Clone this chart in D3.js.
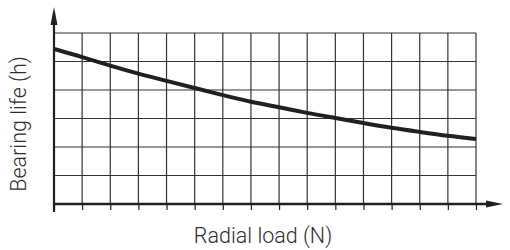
<!DOCTYPE html>
<html>
<head>
<meta charset="utf-8">
<script src="https://cdn.jsdelivr.net/npm/d3@7"></script>
<style>
  body { margin: 0; background: #fff; }
  text { font-family: Roboto, "Liberation Sans", sans-serif; font-weight: 300; fill: #2e2e2e; }
</style>
</head>
<body>
<div id="chart"></div>
<script>
// load steps (grid columns) and life values in grid units
const loadSteps = [0, 1, 2, 3, 4, 5, 6, 7, 8, 9, 10, 11, 12, 13, 14, 15];
const lifeValues = [5.44, 5.16, 4.85, 4.57, 4.32, 4.07, 3.82, 3.58, 3.40, 3.19, 3.02, 2.84, 2.67, 2.53, 2.39, 2.28];
const xGridTicks = d3.range(0, 16);
const yGridTicks = d3.range(0, 7);
const xTitle = "Radial load (N)";
const yTitle = "Bearing life (h)";

const width = 510, height = 250;
const margin = { top: 33, right: 34, bottom: 46, left: 54 };

const svg = d3.select("#chart").append("svg")
    .attr("width", width)
    .attr("height", height);

const x = d3.scaleLinear().domain([0, 15]).range([margin.left, width - margin.right]);
const y = d3.scaleLinear().domain([0, 6]).range([height - margin.bottom, margin.top]);

const ink = "#231f20";

// grid
const grid = svg.append("g").attr("stroke", "#333").attr("stroke-width", 1.2);
grid.selectAll("line.v")
    .data(xGridTicks.slice(1))
    .join("line")
    .attr("x1", d => x(d)).attr("x2", d => x(d))
    .attr("y1", y(6)).attr("y2", y(0));
grid.selectAll("line.h")
    .data(yGridTicks.slice(1))
    .join("line")
    .attr("x1", x(0)).attr("x2", x(15))
    .attr("y1", d => y(d)).attr("y2", d => y(d));

// tick marks below x axis
svg.append("g")
    .attr("transform", `translate(0,${y(0)})`)
    .call(d3.axisBottom(x).tickValues(xGridTicks).tickSize(6).tickFormat(""))
    .call(g => g.select(".domain").remove())
    .call(g => g.selectAll(".tick line").attr("stroke", ink).attr("stroke-width", 1.2));

// axes with arrows
svg.append("line")
    .attr("x1", x(0)).attr("x2", 490)
    .attr("y1", y(0)).attr("y2", y(0))
    .attr("stroke", ink).attr("stroke-width", 2.6);
svg.append("path")
    .attr("d", `M503,${y(0)} L486,${y(0) - 3.5} L486,${y(0) + 3.5} Z`)
    .attr("fill", ink);

svg.append("line")
    .attr("x1", x(0)).attr("x2", x(0))
    .attr("y1", y(0) + 8).attr("y2", 20)
    .attr("stroke", ink).attr("stroke-width", 2.2);
svg.append("path")
    .attr("d", `M${x(0)},7 L${x(0) - 3.5},25 L${x(0) + 3.5},25 Z`)
    .attr("fill", ink);

// curve
const line = d3.line()
    .x((d, i) => x(loadSteps[i]))
    .y(d => y(d))
    .curve(d3.curveBasis);

svg.append("path")
    .datum(lifeValues)
    .attr("d", line)
    .attr("fill", "none")
    .attr("stroke", ink)
    .attr("stroke-width", 4)
    .attr("stroke-linecap", "butt");

// titles
svg.append("text")
    .attr("x", 263).attr("y", 243)
    .attr("text-anchor", "middle")
    .attr("font-size", 21.5)
    .text(xTitle);

svg.append("text")
    .attr("transform", "translate(26,124) rotate(-90)")
    .attr("text-anchor", "middle")
    .attr("font-size", 21.5)
    .text(yTitle);
</script>
</body>
</html>
